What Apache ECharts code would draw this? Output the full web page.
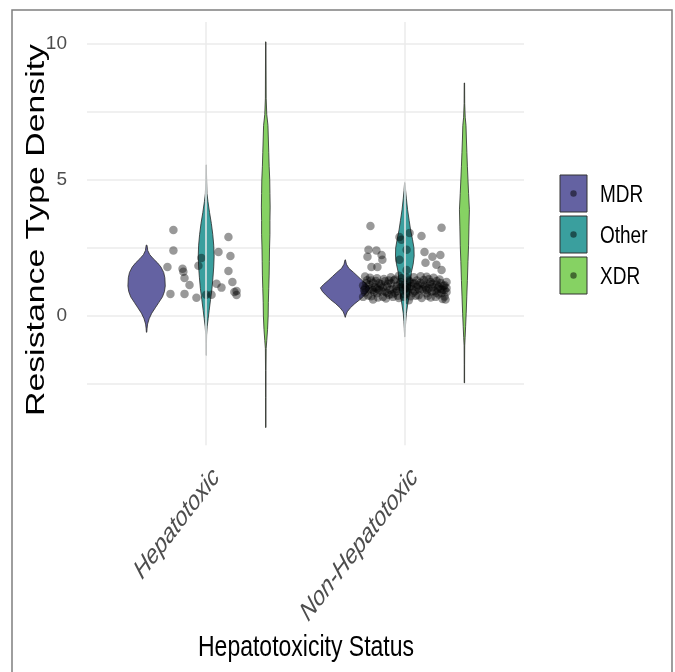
<!DOCTYPE html>
<html><head><meta charset="utf-8">
<script src="https://cdn.jsdelivr.net/npm/echarts@6/dist/echarts.min.js"></script>
<style>html,body{margin:0;padding:0;background:#fff}#c{width:675px;height:672px}</style>
</head><body><div id="c"></div>
<script>
// ---------------- DATA ----------------
const categories = ['Hepatotoxic', 'Non-Hepatotoxic'];
const resistanceTypes = ['MDR', 'Other', 'XDR'];
const yTickLabels = [0, 5, 10];

// violin density profiles: [value, relative density]
const hepMDR = [[2.6,0.2],[2.4,0.6],[2.25,1.6],[2.1,3.4],[1.95,5.5],[1.8,7.2],[1.6,8.6],[1.4,9.2],[1.1,9.4],[0.9,9.0],[0.7,8.0],[0.5,6.2],[0.3,4.4],[0.1,2.6],[-0.1,1.3],[-0.3,0.5],[-0.45,0.25],[-0.6,0.1]];
const hepOther = [[5.55,0.1],[5.0,0.2],[4.5,0.4],[4.2,0.9],[3.8,1.7],[3.4,2.6],[3.0,3.3],[2.6,3.8],[2.2,4.0],[1.8,3.8],[1.4,3.4],[1.0,2.9],[0.6,2.2],[0.2,1.5],[-0.1,1.0],[-0.4,0.5],[-0.7,0.2],[-1.0,0.15],[-1.45,0.1]];
const hepXDR = [[10.07,0.1],[9,0.15],[8,0.2],[7.4,0.5],[7.0,1.1],[6.5,1.3],[6.0,1.5],[5.5,1.7],[5.0,2.0],[4.5,2.1],[4.0,2.2],[3.5,2.1],[3.0,2.1],[2.5,1.9],[2.0,1.8],[1.5,1.7],[1.0,1.5],[0.5,1.3],[0.0,1.2],[-0.5,0.9],[-0.9,0.5],[-1.2,0.2],[-2,0.12],[-3,0.1],[-4.1,0.1]];
const nonHepMDR = [[2.06,0.1],[1.9,0.6],[1.75,1.8],[1.6,4.2],[1.45,6.4],[1.3,8.6],[1.15,11.0],[1.03,12.5],[0.9,11.5],[0.75,9.6],[0.6,7.4],[0.45,4.8],[0.3,2.6],[0.15,1.0],[0.0,0.2],[-0.05,0.05]];
const nonHepOther = [[4.9,0.1],[4.6,0.4],[4.3,0.8],[3.9,1.4],[3.5,2.2],[3.16,2.9],[2.8,3.9],[2.5,4.6],[2.2,4.7],[1.9,4.2],[1.6,3.3],[1.3,3.0],[1.0,2.8],[0.7,2.1],[0.4,1.4],[0.1,0.8],[-0.2,0.45],[-0.45,0.25],[-0.77,0.1]];
const nonHepXDR = [[8.56,0.1],[7.8,0.15],[7.3,0.4],[7.0,0.8],[6.5,1.0],[6.0,1.25],[5.5,1.5],[5.0,1.8],[4.5,2.1],[3.9,2.5],[3.3,2.3],[2.6,2.1],[2.0,1.8],[1.3,1.5],[0.7,1.2],[0.1,0.9],[-0.4,0.6],[-0.8,0.35],[-1.1,0.15],[-1.8,0.1],[-2.46,0.1]];

// jittered observations: [category position + jitter, value]
const hepPoints = [[0.835,3.16],[0.835,2.40],[0.805,1.80],[0.881,1.73],[0.885,1.62],[0.891,1.39],[0.916,1.14],[0.82,0.81],[0.891,0.81],[0.951,0.67],[0.976,2.13],[0.961,1.84],[1.0,0.78],[1.027,0.78],[1.052,1.18],[1.077,1.04],[1.062,2.35],[1.112,2.90],[1.122,2.20],[1.112,1.65],[1.132,1.25],[1.142,0.88],[1.153,0.77],[1.153,0.92]];
const nonHepPoints = [[1.827,3.30],[2.185,3.24],[1.973,2.90],[2.024,3.05],[2.084,2.94],[1.983,2.80],[2.009,2.43],[1.817,2.43],[1.857,2.40],[1.883,2.24],[1.812,2.17],[2.099,2.35],[2.139,2.17],[2.179,2.24],[2.104,1.95],[2.159,1.88],[2.185,1.69],[1.832,1.80],[1.862,1.80],[1.973,2.06],[2.009,1.69],[1.887,2.06],
[1.79,1.12],[1.80,0.86],[1.81,1.31],[1.82,0.98],[1.83,0.72],[1.84,1.22],[1.85,1.05],[1.86,0.83],[1.86,1.38],[1.87,0.95],[1.88,1.16],[1.89,0.70],[1.90,1.27],[1.90,0.90],[1.91,1.08],[1.92,0.78],[1.93,1.20],[1.94,0.99],[1.95,1.34],[1.95,0.85],[1.96,1.10],[1.97,0.66],[1.98,1.25],[1.99,0.93],[2.00,1.15],[2.00,0.80],[2.01,1.40],[2.02,1.02],[2.03,0.72],[2.04,1.19],[2.05,0.91],[2.06,1.30],[2.06,1.06],[2.07,0.76],[2.08,1.22],[2.09,0.97],[2.10,1.12],[2.11,0.83],[2.12,1.35],[2.12,1.01],[2.13,0.68],[2.14,1.18],[2.15,0.92],[2.16,1.28],[2.17,1.07],[2.17,0.79],[2.18,1.21],[2.19,0.96],[2.20,1.13],[2.20,0.71],[2.21,0.88],[2.21,1.03],[1.80,1.45],[1.84,0.60],[1.93,1.42],[2.02,0.58],[2.11,1.44],[2.19,0.62],[1.97,1.48],[2.08,1.46],
[1.795,0.95],[1.805,1.20],[1.815,0.75],[1.825,1.40],[1.835,1.02],[1.845,0.88],[1.855,1.28],[1.865,0.68],[1.875,1.10],[1.885,0.90],[1.895,1.36],[1.905,0.64],[1.915,1.18],[1.925,0.96],[1.935,0.80],[1.945,1.30],[1.955,1.00],[1.965,0.74],[1.975,1.16],[1.985,1.38],[1.995,0.70],[2.005,1.05],[2.015,0.86],[2.025,1.26],[2.035,0.98],[2.045,1.42],[2.055,0.74],[2.065,1.14],[2.075,0.94],[2.085,0.66],[2.095,1.32],[2.105,1.04],[2.115,0.74],[2.125,1.16],[2.135,0.90],[2.145,1.40],[2.155,0.70],[2.165,1.00],[2.175,1.34],[2.185,0.84],[2.195,1.10],[2.205,0.60],[2.21,1.25],[1.79,0.70],[1.80,1.02],[1.82,1.15],[1.84,0.95],[1.87,1.20],[1.89,1.05],[1.92,1.30],[1.94,0.70],[1.96,0.92],[1.98,1.05],[2.00,0.98],[2.03,1.10],[2.05,1.20],[2.07,1.00],[2.09,1.18],[2.11,0.95],[2.14,1.05],[2.16,0.85],[2.18,1.00],[2.20,0.95],[1.86,1.00],[1.91,0.85],[2.02,1.30],[2.13,1.25],[1.83,1.30],[2.04,0.84],[2.16,1.15]];

// ---------------- STYLE ----------------
const profiles = [[hepMDR, hepOther, hepXDR], [nonHepMDR, nonHepOther, nonHepXDR]];
const fills = ['#6462a2', '#3a9f9e', '#86d263'];
const dots = ['#323151', '#1d4f4f', '#436931'];
const dodge = [-0.3, 0, 0.3];
const densityScale = 0.01;
const FONT = '"Liberation Sans", Arial, sans-serif';
const Y_MIN = -5, Y_MAX = 10.8, PANEL_BOTTOM = -4.75;

const chart = echarts.init(document.getElementById('c'), null, {renderer: 'canvas'});

const violinSeries = resistanceTypes.map((t, ti) => ({
  type: 'custom', name: t, z: 2, silent: true,
  data: categories.map((c, ci) => [ci + 1 + dodge[ti], 0, ci]),
  encode: {x: 0, y: 1},
  renderItem: (params, api) => {
    const cx = api.value(0);
    const prof = profiles[api.value(2)][ti];
    const right = prof.map(p => api.coord([cx + p[1] * densityScale, p[0]]));
    const left = prof.slice().reverse().map(p => api.coord([cx - p[1] * densityScale, p[0]]));
    return {type: 'polygon', shape: {points: right.concat(left)},
      style: {fill: fills[ti], stroke: '#2a2a2a', lineWidth: 0.8}};
  }
}));

const option = {
  animation: false,
  backgroundColor: '#fff',
  grid: {left: 87, right: 151, top: 22, bottom: 220, containLabel: false},
  xAxis: {type: 'value', min: 0.4, max: 2.6, show: false},
  yAxis: {type: 'value', min: Y_MIN, max: Y_MAX, interval: 2.5,
    axisLine: {show: false}, axisTick: {show: false},
    axisLabel: {color: '#4d4d4d', fontSize: 19, fontFamily: FONT, margin: 20,
      formatter: v => (yTickLabels.indexOf(v) >= 0 ? String(v) : '')},
    splitLine: {show: true, showMinLine: false, showMaxLine: false, lineStyle: {color: '#ebebeb', width: 1.5}}
  },
  series: [
    {type: 'scatter', name: 'grid', z: 1, silent: true, data: [],
      markLine: {silent: true, symbol: 'none', label: {show: false}, animation: false,
        lineStyle: {color: '#ebebeb', width: 1.5, type: 'solid'},
        data: categories.map((c, i) => [{coord: [i + 1, PANEL_BOTTOM]}, {coord: [i + 1, Y_MAX]}])}},
    ...violinSeries,
    {type: 'scatter', name: 'points', z: 3, silent: true, symbolSize: 8.5,
      itemStyle: {color: 'rgba(0,0,0,0.5)'},
      data: hepPoints.concat(nonHepPoints)}
  ]
};
chart.setOption(option);

// text & decorations
const g = [];
g.push({type: 'rect', shape: {x: 12, y: 10, width: 660, height: 675},
  style: {fill: 'none', stroke: '#7f7f7f', lineWidth: 1.5}, silent: true});
categories.forEach((c, i) => {
  const p = chart.convertToPixel({xAxisIndex: 0, yAxisIndex: 0}, [i + 1, Y_MIN]);
  g.push({type: 'group', x: p[0] + 10, y: p[1] + 21, scaleY: 1.3, silent: true,
    children: [{type: 'text', rotation: Math.PI / 4,
      style: {text: c, font: 'italic 21px ' + FONT, fill: '#4d4d4d', align: 'right', verticalAlign: 'middle', textAlign: 'right', textVerticalAlign: 'middle'}}]});
});
g.push({type: 'group', x: 37, y: 230, scaleY: 1.3, silent: true,
  children: [{type: 'text', rotation: Math.PI / 2,
    style: {text: 'Resistance Type Density', font: '26px ' + FONT, fill: '#000', align: 'center', verticalAlign: 'middle', textAlign: 'center', textVerticalAlign: 'middle'}}]});
g.push({type: 'group', x: 306, y: 648, scaleY: 1.25, silent: true,
  children: [{type: 'text',
    style: {text: 'Hepatotoxicity Status', font: '23px ' + FONT, fill: '#000', align: 'center', verticalAlign: 'middle', textAlign: 'center', textVerticalAlign: 'middle'}}]});
resistanceTypes.forEach((t, i) => {
  const top = 175 + i * 41;
  g.push({type: 'rect', shape: {x: 560, y: top, width: 27, height: 37},
    style: {fill: fills[i], stroke: '#333', lineWidth: 1}, silent: true});
  g.push({type: 'circle', shape: {cx: 573.5, cy: top + 18.5, r: 3.2}, style: {fill: dots[i]}, silent: true});
  g.push({type: 'group', x: 600, y: top + 20, scaleY: 1.3, silent: true,
    children: [{type: 'text', style: {text: t, font: '19px ' + FONT, fill: '#000', align: 'left', verticalAlign: 'middle', textAlign: 'left', textVerticalAlign: 'middle'}}]});
});
chart.setOption({graphic: g});
</script></body></html>
